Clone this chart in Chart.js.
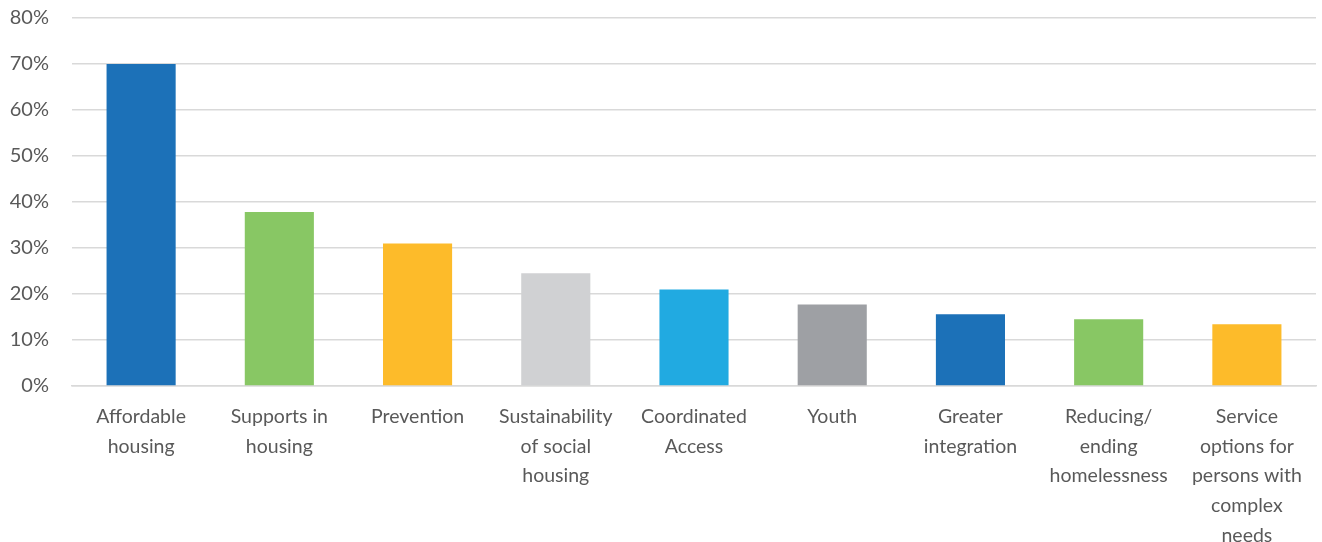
<!DOCTYPE html>
<html>
<head>
<meta charset="utf-8">
<script src="https://cdn.jsdelivr.net/npm/chart.js@4.4.1/dist/chart.umd.min.js"></script>
<style>
  html, body { margin: 0; padding: 0; background: #ffffff; }
  #wrap { width: 1322px; height: 542px; position: relative; }
</style>
</head>
<body>
<div id="wrap"><canvas id="c"></canvas></div>
<script>
const categories = [
  ["Affordable", "housing"],
  ["Supports in", "housing"],
  ["Prevention"],
  ["Sustainability", "of social", "housing"],
  ["Coordinated", "Access"],
  ["Youth"],
  ["Greater", "integration"],
  ["Reducing/", "ending", "homelessness"],
  ["Service", "options for", "persons with", "complex", "needs"]
];
const values = [70.0, 37.8, 31.0, 24.5, 21.0, 17.7, 15.6, 14.5, 13.4];
const barColors = ["#1C71B8", "#88C764", "#FDBB2A", "#D0D1D3", "#21AAE1", "#9EA0A4", "#1C71B8", "#88C764", "#FDBB2A"];
const yTicks = [0, 10, 20, 30, 40, 50, 60, 70, 80];

const fontFamily = "Lato, 'Open Sans', sans-serif";
const textColor = "#595959";

new Chart(document.getElementById("c"), {
  type: "bar",
  data: {
    labels: categories,
    datasets: [{
      data: values,
      backgroundColor: barColors,
      borderWidth: 0,
      categoryPercentage: 1.0,
      barPercentage: 0.5
    }]
  },
  options: {
    responsive: true,
    maintainAspectRatio: false,
    animation: false,
    events: [],
    layout: { padding: { top: 18, right: 6, left: 0, bottom: 0 } },
    plugins: { legend: { display: false }, tooltip: { enabled: false } },
    scales: {
      x: {
        grid: { display: false, drawTicks: false },
        border: { display: true, color: "#d9d9d9", width: 1.5 },
        ticks: {
          color: textColor,
          font: { family: fontFamily, size: 19.5, lineHeight: 1.52 },
          autoSkip: false,
          maxRotation: 0,
          minRotation: 0,
          padding: 16
        },
        afterFit: (s) => { s.height = 156; }
      },
      y: {
        min: 0,
        max: 80,
        afterBuildTicks: (s) => { s.ticks = yTicks.map(v => ({ value: v })); },
        grid: { color: "#d9d9d9", lineWidth: 1.5, drawTicks: false },
        border: { display: false },
        ticks: {
          color: textColor,
          font: { family: fontFamily, size: 20 },
          padding: 23,
          callback: (v) => v + "%"
        },
        afterFit: (s) => { s.width = 72; s.paddingTop = 0; s.paddingBottom = 0; }
      }
    }
  }
});
</script>
</body>
</html>
